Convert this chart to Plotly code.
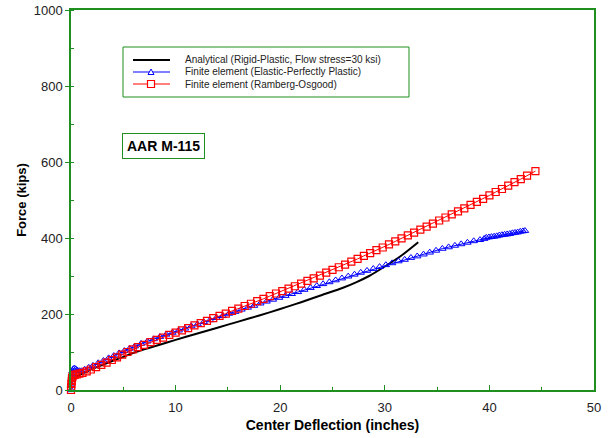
import plotly.graph_objects as go

# Analytical (rigid-plastic)
ana_x = [0.1, 1, 2, 3, 4, 5, 6, 7, 8, 10, 12, 14, 16, 18, 20, 21, 22, 24, 26, 27.3, 28.5, 30, 31.5, 33.2]
ana_y = [30, 42, 55, 66, 77, 87, 98, 107, 115, 132, 148, 164, 180, 196, 213, 222, 231, 250, 269, 284, 300, 325, 352, 389]

# Finite element (Elastic-Perfectly Plastic)
epp_x = [0, 0.03, 0.06, 0.1, 0.15, 0.22, 0.32, 0.45, 0.6, 0.8, 1.0, 1.3, 1.7, 2.1, 2.6, 3.1, 3.6, 4.1, 4.6,
         5.1, 5.6, 6.1, 6.7, 7.3, 7.9, 8.5, 9.1, 9.7, 10.3, 10.9, 11.5, 12.1, 12.7, 13.3, 13.9, 14.5, 15.1,
         15.7, 16.3, 16.9, 17.5, 18.1, 18.7, 19.3, 19.9, 20.5, 21.1, 21.7, 22.3, 22.9, 23.5, 24.1, 24.7,
         25.3, 25.9, 26.5, 27.1, 27.7, 28.3, 28.9, 29.5, 30.1, 30.7, 31.3, 31.9, 32.5, 33.1, 33.7, 34.3,
         34.9, 35.5, 36.1, 36.7, 37.3, 37.9, 38.5, 39.1, 39.5, 39.7, 39.95, 40.2, 40.45, 40.7, 40.95, 41.2,
         41.45, 41.7, 41.95, 42.2, 42.45, 42.7, 42.95, 43.2, 43.4]
epp_y = [0, 15, 30, 42, 50, 55, 57, 55, 52, 50, 50, 54, 59, 64, 71, 77, 84, 90, 97,
         103, 109, 115, 122, 128, 134, 140, 146, 151, 157, 162, 168, 173, 179, 184, 190, 195, 201,
         206, 212, 217, 222, 228, 233, 238, 243, 248, 253, 258, 264, 269, 274, 279, 284,
         289, 294, 299, 304, 309, 314, 319, 324, 329, 334, 339, 343, 348, 352, 357, 362,
         367, 372, 376, 380, 384, 388, 392, 395, 398, 401, 402, 403, 404, 405, 407, 408,
         409, 410, 411, 413, 414, 415, 417, 418, 419]

# Finite element (Ramberg-Osgood)
ro_x = [0, 0.02, 0.04, 0.07, 0.1, 0.15, 0.22, 0.35, 0.55, 0.8, 1.1, 1.5, 1.9, 2.4, 2.9, 3.4, 3.9, 4.4, 4.9,
        5.4, 5.9, 6.4, 7.0, 7.6, 8.2, 8.8, 9.4, 10.0, 10.6, 11.2, 11.8, 12.4, 13.0, 13.6, 14.2, 14.8, 15.4,
        16.0, 16.6, 17.2, 17.8, 18.4, 19.0, 19.6, 20.2, 20.8, 21.4, 22.0, 22.6, 23.2, 23.8, 24.4, 25.0,
        25.6, 26.2, 26.8, 27.4, 28.0, 28.6, 29.2, 29.8, 30.4, 31.0, 31.6, 32.2, 32.8, 33.4, 34.0, 34.6,
        35.2, 35.8, 36.4, 37.0, 37.6, 38.2, 38.8, 39.4, 40.0, 40.6, 41.2, 41.8, 42.4, 43.0, 43.6, 44.4]
ro_y = [0, 8, 16, 24, 31, 36, 39, 40, 41, 43, 45, 49, 54, 60, 66, 72, 79, 86, 93,
        100, 107, 113, 119, 126, 132, 138, 145, 151, 157, 163, 170, 176, 182, 189, 195, 201, 208,
        214, 221, 227, 234, 240, 247, 254, 260, 267, 273, 280, 287, 294, 301, 309, 316,
        323, 330, 338, 345, 353, 360, 368, 375, 383, 391, 399, 407, 414, 422, 430, 438,
        446, 454, 462, 470, 478, 487, 495, 503, 512, 521, 529, 538, 547, 555, 564, 576]

names = ["Analytical (Rigid-Plastic, Flow stress=30 ksi)",
         "Finite element (Elastic-Perfectly Plastic)",
         "Finite element (Ramberg-Osgood)"]
colors = ["black", "blue", "red"]
widths = [2, 1, 1]

GREEN = "#1f8f1f"
FONT = "Liberation Sans, Arial, sans-serif"

fig = go.Figure()
fig.add_trace(go.Scatter(x=ana_x, y=ana_y, mode="lines", name=names[0],
                         line=dict(color=colors[0], width=widths[0], shape="spline", smoothing=0.6),
                         cliponaxis=False))
fig.add_trace(go.Scatter(x=epp_x, y=epp_y, mode="lines+markers", name=names[1],
                         line=dict(color=colors[1], width=widths[1]),
                         marker=dict(symbol="triangle-up-open", size=6.5, color=colors[1], line=dict(width=1)),
                         cliponaxis=False))
fig.add_trace(go.Scatter(x=ro_x, y=ro_y, mode="lines+markers", name=names[2],
                         line=dict(color=colors[2], width=widths[2]),
                         marker=dict(symbol="square-open", size=7, color=colors[2], line=dict(width=1.2)),
                         cliponaxis=False))

# ---- custom compact legend (paper coordinates of the plot area) ----
W, H = 523.0, 380.0  # plot area size in px


def px(xp):
    return (xp - 71) / W


def py(yp):
    return (390 - yp) / H


shapes = [dict(type="rect", xref="paper", yref="paper", x0=px(123), x1=px(409), y0=py(97), y1=py(47),
               line=dict(color=GREEN, width=1), fillcolor="white", layer="below")]
annotations = []
rows = [60, 72, 84]
for i, r in enumerate(rows):
    shapes.append(dict(type="line", xref="paper", yref="paper", x0=px(133), x1=px(170), y0=py(r), y1=py(r),
                       line=dict(color=colors[i], width=widths[i])))
    annotations.append(dict(x=px(183), y=py(r), xref="paper", yref="paper", text=names[i],
                            xanchor="left", yanchor="middle", showarrow=False,
                            font=dict(size=10, color="#222")))
# triangle sample
cx, cy = 151, rows[1]
shapes.append(dict(type="path", xref="paper", yref="paper",
                   path=f"M {px(cx-3)} {py(cy+2.5)} L {px(cx+3)} {py(cy+2.5)} L {px(cx)} {py(cy-3)} Z",
                   line=dict(color="blue", width=1), fillcolor="white"))
# square sample
cx, cy = 151, rows[2]
shapes.append(dict(type="rect", xref="paper", yref="paper", x0=px(cx-3.5), x1=px(cx+3.5),
                   y0=py(cy+3.5), y1=py(cy-3.5), line=dict(color="red", width=1.2), fillcolor="white"))

annotations.append(dict(x=8.84, y=642, xref="x", yref="y", text="<b>AAR M-115</b>",
                        showarrow=False, font=dict(size=14, color="black"),
                        bordercolor=GREEN, borderwidth=1, borderpad=4, bgcolor="white"))

fig.update_layout(
    width=608, height=438,
    margin=dict(l=71, r=14, t=10, b=48),
    paper_bgcolor="white", plot_bgcolor="white",
    font=dict(family=FONT, size=13, color="#222"),
    showlegend=False,
    shapes=shapes,
    annotations=annotations,
)
fig.update_xaxes(range=[0, 50], dtick=10, showgrid=False, zeroline=False, automargin=False,
                 showline=True, linecolor=GREEN, linewidth=1.5, mirror=True,
                 ticks="inside", ticklen=5, tickcolor=GREEN, ticklabelstandoff=5,
                 minor=dict(dtick=5, ticks="inside", ticklen=3, tickcolor=GREEN),
                 title=dict(text="<b>Center Deflection (inches)</b>", font=dict(size=14, color="black"), standoff=6))
fig.update_yaxes(range=[0, 1000], dtick=200, showgrid=False, zeroline=False, automargin=False,
                 showline=True, linecolor=GREEN, linewidth=1.5, mirror=True,
                 ticks="outside", ticklen=4, tickcolor=GREEN,
                 minor=dict(dtick=100, ticks="inside", ticklen=3, tickcolor=GREEN),
                 title=dict(text="<b>Force (kips)</b>", font=dict(size=13, color="black"), standoff=4))

fig.write_html("out.html", config={"displayModeBar": False},
               post_script="document.body.style.margin='0px';")
